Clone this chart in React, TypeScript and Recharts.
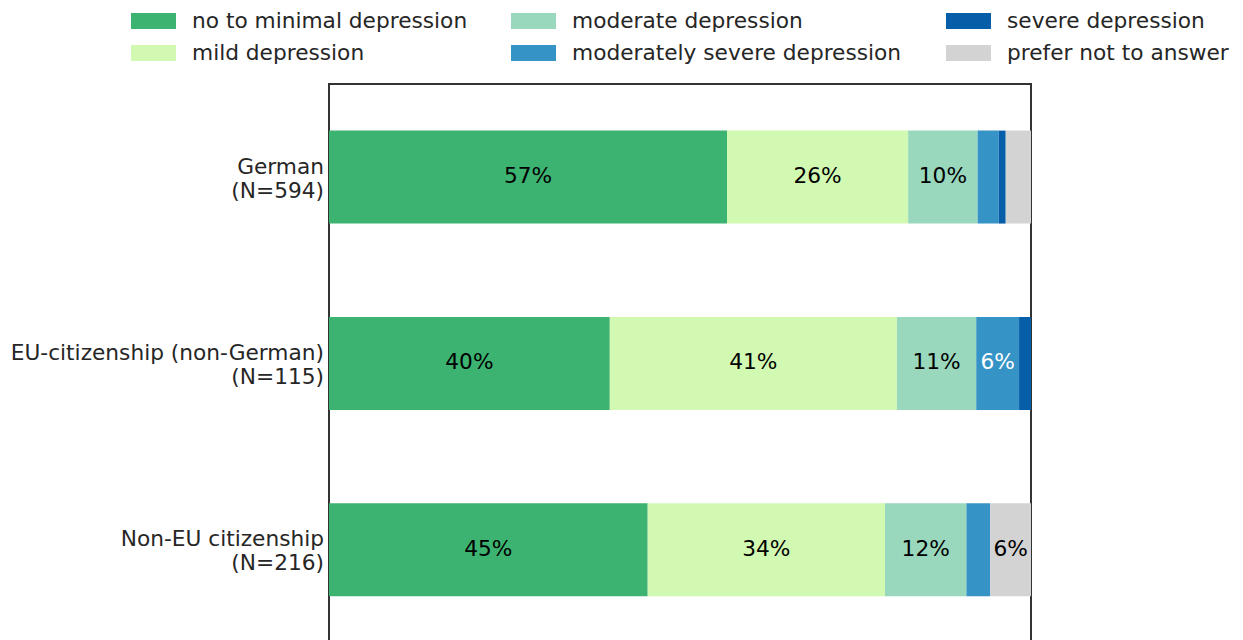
import React from 'react';
import { BarChart, Bar, XAxis, YAxis, CartesianGrid, ReferenceArea, LabelList, Legend } from 'recharts';

// share of respondents per PHQ-9 category, in percent
const categories = ['German\n(N=594)', 'EU-citizenship (non-German)\n(N=115)', 'Non-EU citizenship\n(N=216)'];
const noMinimal = [56.7, 40.0, 45.4];
const mild = [25.8, 40.9, 33.8];
const moderate = [9.9, 11.3, 11.6];
const modSevere = [3.0, 6.1, 3.4];
const severe = [1.0, 1.7, 0];
const preferNot = [3.6, 0, 5.8];

const xTicks = [0, 20, 40, 60, 80, 100];

const series = [
    { key: 'noMinimal', name: 'no to minimal depression', values: noMinimal, color: '#3cb371', text: '#000000' },
    { key: 'mild', name: 'mild depression', values: mild, color: '#d1f9b1', text: '#000000' },
    { key: 'moderate', name: 'moderate depression', values: moderate, color: '#99d8bd', text: '#000000' },
    { key: 'modSevere', name: 'moderately severe depression', values: modSevere, color: '#3593c6', text: '#ffffff' },
    { key: 'severe', name: 'severe depression', values: severe, color: '#065ea8', text: '#ffffff' },
    { key: 'preferNot', name: 'prefer not to answer', values: preferNot, color: '#d3d3d3', text: '#000000' },
];

const data = categories.map((name, i) => {
    const row: Record<string, string | number> = { name };
    series.forEach((s) => { row[s.key] = s.values[i]; });
    return row;
});

const FONT = 'DejaVu Sans';
const FS = 21.7;

const CategoryTick = (props: any) => {
    const { x, y, payload } = props;
    const lines = String(payload.value).split('\n');
    return (
        <text x={x} y={y} textAnchor="end" fill="#262626" fontSize={FS} fontFamily={FONT}>
            {lines.map((l, i) => (
                <tspan key={i} x={x} dy={i === 0 ? -3.5 : 24}>{l}</tspan>
            ))}
        </text>
    );
};

const makeLabel = (color: string) => (props: any) => {
    const { x, y, width, height, value } = props;
    if (value == null || value < 5) return null;
    return (
        <text x={x + width / 2} y={y + height / 2 - 1.5} textAnchor="middle" dominantBaseline="central"
            fill={color} fontSize={FS} fontFamily={FONT}>
            {Math.round(value)}%
        </text>
    );
};

// legend columns: left edges of swatches, 2 rows each
const legendCols = [131, 511, 946];

const renderLegend = () => (
    <div style={{ position: 'relative', width: 1243, height: 70, fontFamily: FONT, fontSize: FS, color: '#262626' }}>
        {series.map((s, i) => {
            const col = Math.floor(i / 2);
            const row = i % 2;
            return (
                <div key={s.key} style={{ position: 'absolute', left: legendCols[col], top: 13 + row * 32, display: 'flex', alignItems: 'center', height: 16 }}>
                    <div style={{ width: 45, height: 16, background: s.color }} />
                    <span style={{ marginLeft: 16, whiteSpace: 'nowrap', lineHeight: '16px' }}>{s.name}</span>
                </div>
            );
        })}
    </div>
);

export default function App() {
    return (
        <div style={{ position: 'absolute', left: 0, top: 0, width: 1243, height: 640, overflow: 'hidden', background: '#fff' }}>
            <BarChart width={1243} height={673} data={data} layout="vertical"
                margin={{ top: 84, right: 212, bottom: 0, left: 0 }} barCategoryGap="25%">
                <CartesianGrid horizontal={false} stroke="#cccccc" strokeWidth={1} />
                <XAxis type="number" domain={[0, 100]} ticks={xTicks} height={30} axisLine={false} tickLine={false}
                    tick={false} />
                <YAxis type="category" dataKey="name" width={329} axisLine={false} tickLine={false}
                    tickSize={0} tickMargin={5} tick={<CategoryTick />} interval={0} />
                <Legend layout="horizontal" verticalAlign="middle" align="center" content={renderLegend}
                    wrapperStyle={{ top: 0, left: 0, width: 1243, height: 70 }} />
                {series.map((s) => (
                    <Bar key={s.key} dataKey={s.key} name={s.name} stackId="a" fill={s.color} isAnimationActive={false}>
                        <LabelList dataKey={s.key} content={makeLabel(s.text)} />
                    </Bar>
                ))}
                <ReferenceArea x1={0} x2={100} fill="none" fillOpacity={0} stroke="#333333" strokeWidth={2} ifOverflow="visible" />
            </BarChart>
        </div>
    );
}
